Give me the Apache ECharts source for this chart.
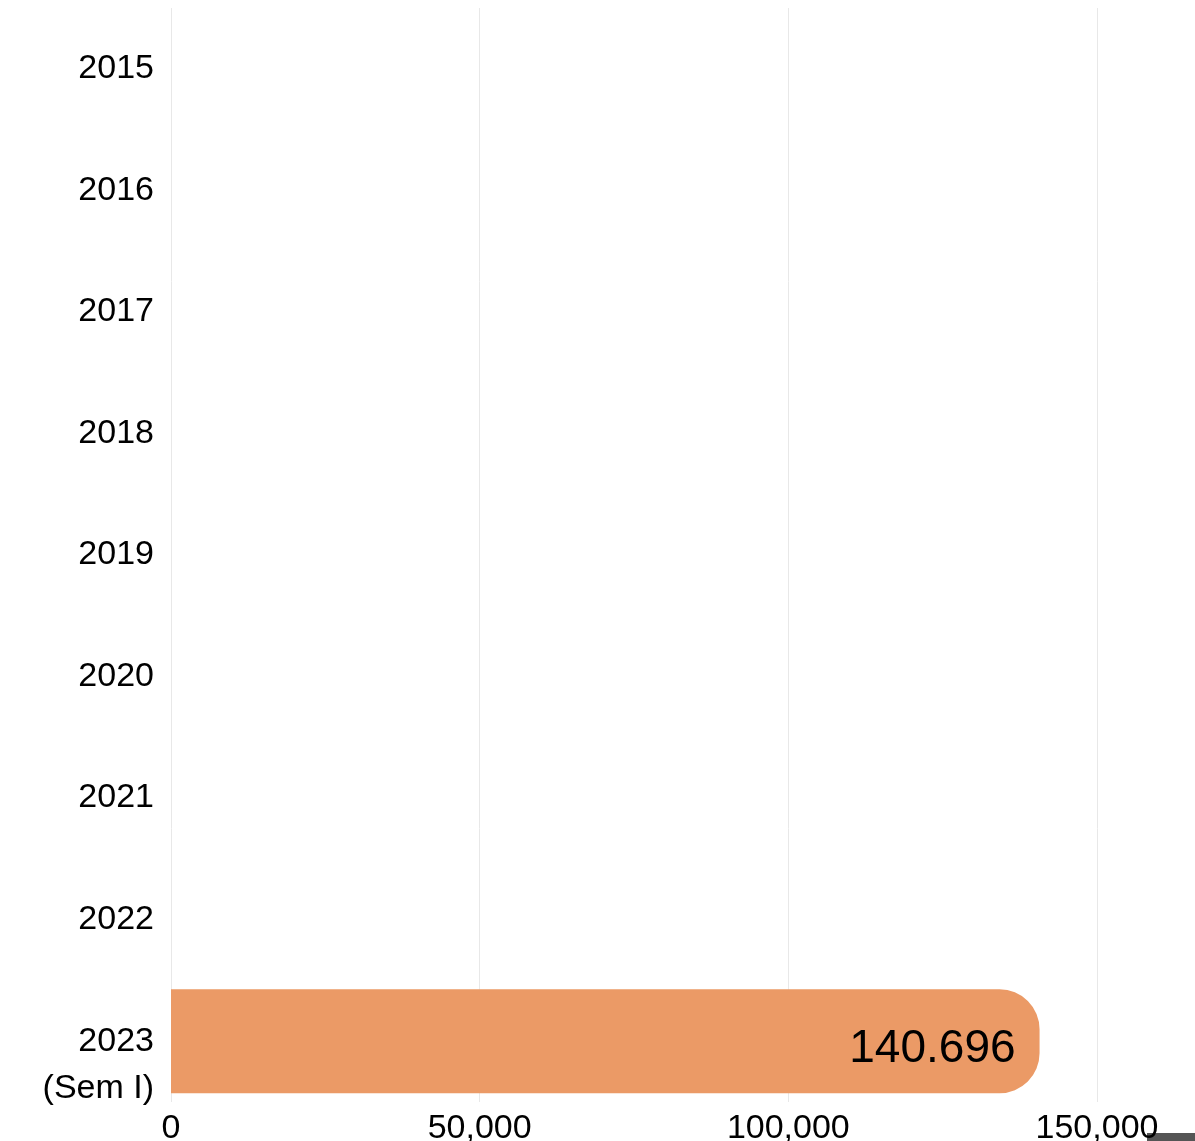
<!DOCTYPE html>
<html>
<head>
<meta charset="utf-8">
<script src="https://cdn.jsdelivr.net/npm/echarts@6/dist/echarts.min.js"></script>
<style>
html,body{margin:0;padding:0;background:#fff;}
#chart{width:1195px;height:1141px;}
</style>
</head>
<body>
<div id="chart"></div>
<script>
const categories = ['2015','2016','2017','2018','2019','2020','2021','2022','2023\n(Sem I)'];
const values = [null,null,null,null,null,null,null,null,140696];
const xTicks = { min: 0, max: 150000, interval: 50000 };

const chart = echarts.init(document.getElementById('chart'), null, {renderer:'canvas'});
const font = '"Liberation Sans", Arial, sans-serif';
chart.setOption({
  animation: false,
  backgroundColor: '#fff',
  grid: { left: 171, right: 98, top: 8, height: 1094, containLabel: false, outerBoundsMode: 'none' },
  xAxis: {
    type: 'value',
    min: xTicks.min, max: xTicks.max, interval: xTicks.interval,
    axisLine: { show: false },
    axisTick: { show: false },
    splitLine: { show: true, lineStyle: { color: '#e8e8e8', width: 1 } },
    axisLabel: {
      color: '#000', fontFamily: font, fontSize: 34, margin: 10,
      formatter: v => v.toLocaleString('en-US')
    }
  },
  yAxis: {
    type: 'category',
    inverse: true,
    data: categories,
    axisLine: { show: false },
    axisTick: { show: false },
    splitLine: { show: false },
    axisLabel: {
      interval: 0,
      color: '#000', fontFamily: font, fontSize: 34, lineHeight: 47, margin: 17,
      formatter: v => v.indexOf('\n') >= 0 ? '\n' + v : v
    }
  },
  series: [{
    type: 'bar',
    data: values,
    barWidth: 104,
    itemStyle: { color: '#eb9a66', borderRadius: [0, 40, 40, 0] },
    label: {
      show: true,
      position: 'insideRight',
      distance: 24,
      offset: [0, 8],
      color: '#000',
      fontFamily: font,
      fontSize: 46,
      formatter: p => p.value == null ? '' : String(p.value).replace(/\B(?=(\d{3})+(?!\d))/g, '.')
    }
  }],
  graphic: [{
    type: 'rect',
    right: 0, bottom: 0,
    shape: { width: 48, height: 8 },
    style: { fill: '#555' }
  }]
});
</script>
</body>
</html>
